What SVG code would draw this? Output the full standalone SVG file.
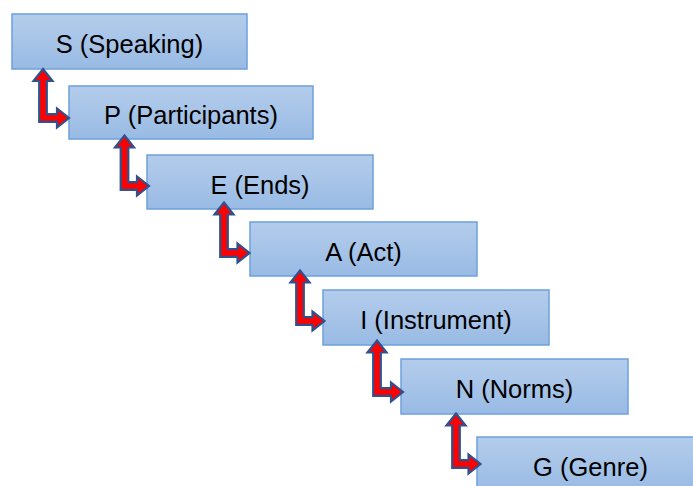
<svg xmlns="http://www.w3.org/2000/svg" width="693" height="486" viewBox="0 0 693 486">
<defs>
<linearGradient id="bx" x1="0" y1="0" x2="0" y2="1">
<stop offset="0" stop-color="#B3CCEB"/>
<stop offset="0.5" stop-color="#A7C4E8"/>
<stop offset="1" stop-color="#98BAE4"/>
</linearGradient>
<style>
.box{fill:url(#bx);stroke:#6EA0DC;stroke-width:1.5}
.lbl{font-family:"Liberation Sans",Arial,sans-serif;font-size:25.5px;fill:#000;text-anchor:middle}
.arr{fill:#FF0000;stroke:#2F528F;stroke-width:2.2;stroke-linejoin:miter}
</style>
</defs>
<rect width="693" height="486" fill="#FFFFFF"/>
<g id="node-S"><rect class="box" x="12" y="14" width="235" height="55"/><text class="lbl" x="129.5" y="53">S (Speaking)</text></g>
<g id="node-P"><rect class="box" x="69" y="86" width="244" height="53"/><text class="lbl" x="191" y="124">P (Participants)</text></g>
<g id="node-E"><rect class="box" x="147" y="155" width="226" height="54"/><text class="lbl" x="260" y="193.5">E (Ends)</text></g>
<g id="node-A"><rect class="box" x="250" y="222" width="227" height="54"/><text class="lbl" x="363.5" y="260.5">A (Act)</text></g>
<g id="node-I"><rect class="box" x="323" y="290" width="226" height="55"/><text class="lbl" x="436" y="329">I (Instrument)</text></g>
<g id="node-N"><rect class="box" x="401" y="359" width="227" height="55"/><text class="lbl" x="514.5" y="398">N (Norms)</text></g>
<g id="node-G"><rect class="box" x="477" y="437" width="227" height="55"/><text class="lbl" x="590.5" y="476">G (Genre)</text></g>
<g id="connectors">
<path class="arr" d="M43,69 L52.5,81 L46.8,81 L46.8,114.2 L57,114.2 L57,108.5 L69,118 L57,127.5 L57,121.8 L39.2,121.8 L39.2,81 L33.5,81 Z"/>
<path class="arr" d="M124.5,135.5 L134,147.5 L128.3,147.5 L128.3,182.2 L137,182.2 L137,176.5 L149,186 L137,195.5 L137,189.8 L120.7,189.8 L120.7,147.5 L115,147.5 Z"/>
<path class="arr" d="M224,202.5 L233.5,214.5 L227.8,214.5 L227.8,249.2 L237.5,249.2 L237.5,243.5 L249.5,253 L237.5,262.5 L237.5,256.8 L220.2,256.8 L220.2,214.5 L214.5,214.5 Z"/>
<path class="arr" d="M300,270.5 L309.5,282.5 L303.8,282.5 L303.8,317.2 L312.5,317.2 L312.5,311.5 L324.5,321 L312.5,330.5 L312.5,324.8 L296.2,324.8 L296.2,282.5 L290.5,282.5 Z"/>
<path class="arr" d="M377,340.5 L386.5,352.5 L380.8,352.5 L380.8,388.2 L391,388.2 L391,382.5 L403,392 L391,401.5 L391,395.8 L373.2,395.8 L373.2,352.5 L367.5,352.5 Z"/>
<path class="arr" d="M456,413.5 L465.5,425.5 L459.8,425.5 L459.8,460.2 L468.5,460.2 L468.5,454.5 L480.5,464 L468.5,473.5 L468.5,467.8 L452.2,467.8 L452.2,425.5 L446.5,425.5 Z"/>
</g>
</svg>
